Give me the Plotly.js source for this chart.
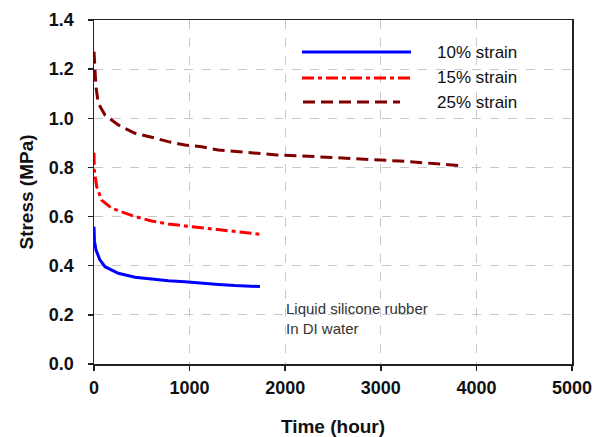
<!DOCTYPE html>
<html>
<head>
<meta charset="utf-8">
<script src="https://cdn.plot.ly/plotly-3.0.1.min.js"></script>
<style>html,body{margin:0;padding:0;background:#fff;}#chart{width:603px;height:437px;}</style>
</head>
<body>
<div id="chart"></div>
<script>
// Data
const t10 = [0, 5, 21, 60, 115, 254, 429, 603, 777, 952, 1126, 1300, 1475, 1736];
const s10 = [0.559, 0.50, 0.464, 0.425, 0.396, 0.369, 0.353, 0.345, 0.339, 0.335, 0.328, 0.324, 0.319, 0.315];
const t15 = [0, 3, 28, 80, 185, 324, 429, 603, 777, 952, 1126, 1300, 1475, 1736];
const s15 = [0.860, 0.790, 0.722, 0.667, 0.634, 0.613, 0.600, 0.582, 0.570, 0.562, 0.554, 0.545, 0.539, 0.528];
const t25 = [0, 10, 20, 45, 115, 254, 429, 603, 777, 952, 1126, 1300, 1649, 1911, 2155, 2678, 3200, 3619, 3860];
const s25 = [1.271, 1.197, 1.129, 1.061, 1.013, 0.973, 0.939, 0.923, 0.905, 0.891, 0.884, 0.871, 0.860, 0.851, 0.847, 0.836, 0.826, 0.814, 0.806];
const seriesNames = ['10% strain', '15% strain', '25% strain'];
const seriesColors = ['#0000ff', '#ff0000', '#800000'];
const seriesDash = ['solid', '12px,4px,4px,4px', '12px,6px'];
const xTicks = [0, 1000, 2000, 3000, 4000, 5000];
const yTicks = [0.0, 0.2, 0.4, 0.6, 0.8, 1.0, 1.2, 1.4];
const noteLines = ['Liquid silicone rubber', 'In DI water'];

const xs = [t10, t15, t25], ys = [s10, s15, s25];
const traces = xs.map((x, i) => ({
  x: x, y: ys[i], type: 'scatter', mode: 'lines', name: seriesNames[i],
  line: {color: seriesColors[i], width: 3, dash: seriesDash[i]},
  showlegend: false
}));

// Legend drawn manually (long line samples as in the reference)
const L = 94, R = 572, T = 20, B = 364;
const px = v => (v - L) / (R - L);
const py = v => (B - v) / (B - T);
const legY = [52, 78, 102];
const legX0 = [302, 302, 303], legX1 = [411, 411, 400];
const shapes = seriesNames.map((n, i) => ({
  type: 'line', xref: 'paper', yref: 'paper',
  x0: px(legX0[i]), x1: px(legX1[i]), y0: py(legY[i]), y1: py(legY[i]),
  line: {color: seriesColors[i], width: 3, dash: seriesDash[i]}
}));
const FONT = 'Arial, Liberation Sans, sans-serif';
const annotations = seriesNames.map((n, i) => ({
  xref: 'paper', yref: 'paper', x: px(435), y: py(legY[i]),
  xanchor: 'left', yanchor: 'middle', showarrow: false, text: n,
  font: {family: FONT, size: 17, color: '#111'}
}));
annotations.push({
  xref: 'paper', yref: 'paper', x: px(284), y: py(318),
  xanchor: 'left', yanchor: 'middle', showarrow: false, align: 'left',
  text: noteLines.join('<br>'),
  font: {family: FONT, size: 15, color: '#333'}
});

const axisCommon = {
  showline: true, mirror: true, linecolor: '#222', linewidth: 1.5,
  ticks: 'outside', ticklen: 5, tickcolor: '#222', tickwidth: 1.5,
  showgrid: true, gridcolor: '#c8c8c8', griddash: 'dash', gridwidth: 1,
  zeroline: false,
  tickfont: {family: FONT, size: 18, color: '#111', weight: 'bold'}
};

const layout = {
  width: 603, height: 437,
  margin: {l: L, r: 603 - R, t: T, b: 437 - B},
  paper_bgcolor: '#fff', plot_bgcolor: '#fff',
  xaxis: Object.assign({}, axisCommon, {
    range: [0, 5000], tickvals: xTicks, ticktext: xTicks.map(String),
    ticklabelstandoff: 2,
    title: {text: '<b>Time (hour)</b>', standoff: 22,
      font: {family: FONT, size: 19, color: '#111'}}
  }),
  yaxis: Object.assign({}, axisCommon, {
    range: [0, 1.4], tickvals: yTicks, ticktext: yTicks.map(v => v.toFixed(1)),
    ticklabelstandoff: 10,
    title: {text: '<b>Stress (MPa)</b>', standoff: 10,
      font: {family: FONT, size: 19, color: '#111'}}
  }),
  shapes: shapes,
  annotations: annotations,
  showlegend: false
};

Plotly.newPlot('chart', traces, layout, {displayModeBar: false, staticPlot: true});
</script>
</body>
</html>
